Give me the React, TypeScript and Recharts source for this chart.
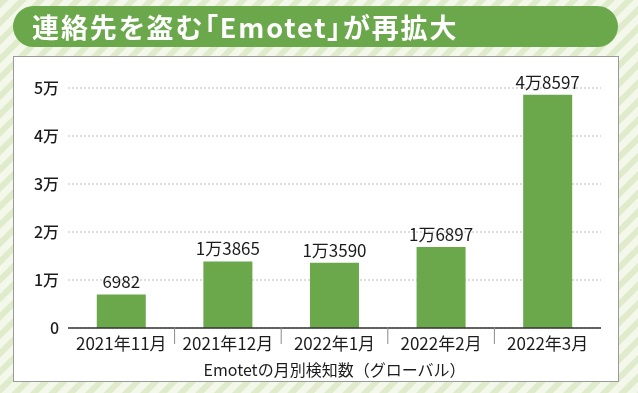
import React from 'react'
import { BarChart, Bar, XAxis, YAxis, CartesianGrid, LabelList } from 'recharts'

const months = ['2021年11月', '2021年12月', '2022年1月', '2022年2月', '2022年3月']
const detections = [6982, 13865, 13590, 16897, 48597]
const yTicks = [0, 10000, 20000, 30000, 40000, 50000]

const data = months.map((month, i) => ({ month, count: detections[i] }))

const FONT = '"Noto Sans CJK JP", "Noto Sans", sans-serif'
const GREEN = '#6aa84b'
const INK = '#1c1c1c'

const fmtMan = (v: number) => (v === 0 ? '0' : `${v / 10000}万`)
const fmtCount = (v: number) =>
  v >= 10000 ? `${Math.floor(v / 10000)}万${String(v % 10000).padStart(4, '0')}` : `${v}`

// x tick with a separator line on the right edge of each category
function MonthTick(props: any) {
  const { x, y, payload, index } = props
  const half = payload.offset || 0
  return (
    <g>
      <text x={x} y={y + 14} textAnchor="middle" fontFamily={FONT} fontSize={17} fill={INK}>
        {payload.value}
      </text>
      {index < months.length - 1 && (
        <line x1={x + half} x2={x + half} y1={y - 9} y2={y + 8} stroke="#8a8a8a" strokeWidth={1} />
      )}
    </g>
  )
}

export default function App() {
  return (
    <div style={{ position: 'fixed', left: 0, top: 0, width: 638, height: 393, overflow: 'hidden', fontFamily: FONT }}>
      {/* striped backdrop */}
      <svg width={638} height={393} style={{ position: 'absolute', left: 0, top: 0 }}>
        <defs>
          <pattern id="stripes" width={13} height={13} patternUnits="userSpaceOnUse" patternTransform="rotate(45)">
            <rect width={13} height={13} fill="#f3f8ea" />
            <rect width={6} height={13} fill="#dfebcb" />
          </pattern>
        </defs>
        <rect width={638} height={393} fill="url(#stripes)" />
      </svg>

      {/* title pill */}
      <div
        style={{
          position: 'absolute', left: 13, top: 6, width: 605, height: 41, borderRadius: 21,
          background: GREEN, color: '#fff', fontWeight: 700, fontSize: 27, lineHeight: '41px',
          paddingLeft: 19, boxSizing: 'border-box', letterSpacing: 1.9, fontFeatureSettings: '"palt"',
        }}
      >
        連絡先を盗む「Emotet」が再拡大
      </div>

      {/* white panel */}
      <div
        style={{
          position: 'absolute', left: 13, top: 56, width: 606, height: 326,
          background: '#fff', border: '1px solid #9a9a9a', boxSizing: 'border-box',
        }}
      />

      <div style={{ position: 'absolute', left: 0, top: 0 }}>
        <BarChart
          width={638}
          height={393}
          data={data}
          margin={{ top: 88, right: 37, bottom: 11, left: 10 }}
          barCategoryGap="27%"
        >
          <CartesianGrid vertical={false} stroke="#bdbdbd" strokeDasharray="2 2" />
          <XAxis
            dataKey="month"
            height={54}
            tickLine={false}
            axisLine={{ stroke: '#333', strokeWidth: 1.5 }}
            tick={<MonthTick />}
            interval={0}
            label={{
              value: 'Emotetの月別検知数（グローバル）',
              position: 'insideBottom',
              offset: 6,
              fontFamily: FONT,
              fontSize: 16,
              fill: INK,
            }}
          />
          <YAxis
            width={58}
            domain={[0, 50000]}
            ticks={yTicks}
            tickFormatter={fmtMan}
            axisLine={false}
            tickLine={false}
            tickMargin={3}
            tick={{ fontFamily: FONT, fontSize: 16, fill: INK, fontWeight: 500 }}
          />
          <Bar dataKey="count" fill={GREEN} isAnimationActive={false}>
            <LabelList
              dataKey="count"
              position="top"
              offset={6}
              formatter={(v: any) => fmtCount(Number(v))}
              style={{ fontFamily: FONT, fontSize: 17, fill: INK }}
            />
          </Bar>
        </BarChart>
      </div>
    </div>
  )
}
